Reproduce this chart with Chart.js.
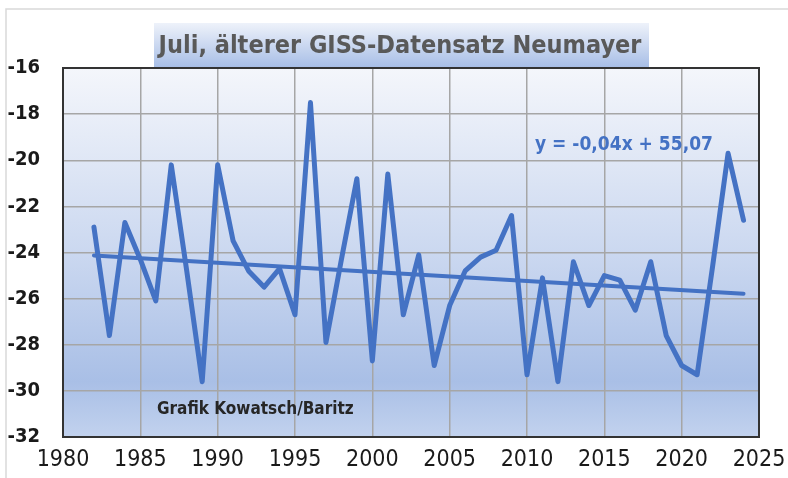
<!DOCTYPE html>
<html><head><meta charset="utf-8">
<script src="https://cdn.jsdelivr.net/npm/chart.js@4.4.1/dist/chart.umd.min.js"></script>
<style>html,body{margin:0;padding:0;background:#fff;}#wrap{width:788px;height:478px;}</style>
</head><body><div id="wrap"><canvas id="c" width="788" height="478"></canvas></div>
<script>
const chartTitle = 'Juli, älterer GISS-Datensatz Neumayer';
const creditText = 'Grafik Kowatsch/Baritz';
const equationText = 'y = -0,04x + 55,07';
const years = [1982,1983,1984,1985,1986,1987,1988,1989,1990,1991,1992,1993,1994,1995,1996,1997,1998,1999,2000,2001,2002,2003,2004,2005,2006,2007,2008,2009,2010,2011,2012,2013,2014,2015,2016,2017,2018,2019,2020,2021,2022,2023,2024];
const temps = [-22.9,-27.6,-22.7,-24.3,-26.1,-20.2,-24.8,-29.6,-20.2,-23.5,-24.8,-25.5,-24.7,-26.7,-17.5,-27.9,-24.3,-20.8,-28.7,-20.6,-26.7,-24.1,-28.9,-26.3,-24.8,-24.2,-23.9,-22.4,-29.3,-25.1,-29.6,-24.4,-26.3,-25.0,-25.2,-26.5,-24.4,-27.6,-28.9,-29.3,-24.6,-19.7,-22.6];
const xTickValues = [1980,1985,1990,1995,2000,2005,2010,2015,2020,2025];
const yTickValues = [-32,-30,-28,-26,-24,-22,-20,-18,-16];

// least-squares trend from the data
const n = years.length;
const mx = years.reduce((a,b)=>a+b,0)/n, my = temps.reduce((a,b)=>a+b,0)/n;
let sxy=0, sxx=0;
for (let i=0;i<n;i++){ sxy+=(years[i]-mx)*(temps[i]-my); sxx+=(years[i]-mx)**2; }
const slope = sxy/sxx, icpt = my - slope*mx;
const trendYears = [years[0], years[n-1]];
const trendVals = trendYears.map(x => icpt + slope*x);

const BLUE = '#4472C4';
const FONT = '"Liberation Sans Narrow", "DejaVu Sans Condensed", sans-serif';
const deco = {
  id:'deco',
  beforeDraw(chart){
    const ctx = chart.ctx, a = chart.chartArea;
    ctx.save();
    ctx.strokeStyle = '#d9d9d9'; ctx.lineWidth = 1.5;
    ctx.beginPath(); ctx.moveTo(6, 490); ctx.lineTo(6, 9); ctx.lineTo(800, 9); ctx.stroke();
    const g = ctx.createLinearGradient(0, a.top, 0, a.bottom);
    g.addColorStop(0, '#f4f6fb');
    g.addColorStop(0.5, '#cbd8f0');
    g.addColorStop(0.85, '#a9bfe6');
    g.addColorStop(1, '#c2d2ee');
    ctx.fillStyle = g;
    ctx.fillRect(a.left, a.top, a.right-a.left, a.bottom-a.top);
    const tg = ctx.createLinearGradient(0, 23, 0, a.top);
    tg.addColorStop(0, '#eef2fa');
    tg.addColorStop(1, '#a6bde6');
    ctx.fillStyle = tg;
    ctx.fillRect(154, 23, 495, a.top-23);
    ctx.fillStyle = '#595959';
    ctx.font = 'bold 25px ' + FONT;
    ctx.textAlign = 'center'; ctx.textBaseline = 'alphabetic';
    ctx.fillText(chartTitle, 400, 53);
    ctx.restore();
  },
  beforeDatasetsDraw(chart){
    const ctx = chart.ctx, a = chart.chartArea;
    ctx.save();
    ctx.strokeStyle = '#333'; ctx.lineWidth = 2;
    ctx.strokeRect(a.left, a.top, a.right-a.left, a.bottom-a.top);
    ctx.restore();
  },
  afterDatasetsDraw(chart){
    const ctx = chart.ctx;
    ctx.save();
    ctx.textBaseline = 'middle'; ctx.textAlign = 'left';
    ctx.fillStyle = '#262626';
    ctx.font = 'bold 17px ' + FONT;
    ctx.fillText(creditText, 157, 410);
    ctx.fillStyle = BLUE;
    ctx.font = 'bold 19px ' + FONT;
    ctx.fillText(equationText, 535, 145);
    ctx.restore();
  }
};

new Chart(document.getElementById('c'), {
  type:'line',
  data:{
    datasets:[
      {data: years.map((x,i)=>({x, y:temps[i]})), borderColor:BLUE, borderWidth:5, pointRadius:0, tension:0, borderJoinStyle:'round', borderCapStyle:'round', order:1},
      {data: trendYears.map((x,i)=>({x, y:trendVals[i]})), borderColor:BLUE, borderWidth:4, pointRadius:0, tension:0, borderCapStyle:'round', order:2}
    ]
  },
  options:{
    responsive:false, animation:false, devicePixelRatio:1,
    layout:{padding:{top:68, right:29, left:0, bottom:0}},
    plugins:{legend:{display:false}, tooltip:{enabled:false}, title:{display:false}},
    scales:{
      x:{type:'linear', min:1980, max:2025,
        afterBuildTicks(s){ s.ticks = xTickValues.map(v=>({value:v})); },
        afterFit(s){ s.height = 41; s.paddingLeft = 0; s.paddingRight = 0; },
        grid:{color:'#a6a6a6', lineWidth:1.5, drawTicks:false},
        border:{display:false},
        ticks:{padding:9, color:'#1a1a1a', maxRotation:0, autoSkip:false,
          font:{family:FONT, size:23},
          callback:(v)=>String(v)}
      },
      y:{type:'linear', min:-32, max:-16,
        afterBuildTicks(s){ s.ticks = yTickValues.map(v=>({value:v})); },
        afterFit(s){ s.width = 63; s.paddingTop = 0; s.paddingBottom = 0; },
        grid:{color:'#a6a6a6', lineWidth:1.5, drawTicks:false},
        border:{display:false},
        ticks:{padding:23, color:'#1a1a1a', autoSkip:false,
          font:{family:FONT, size:20, weight:'bold'},
          callback:(v)=>String(v)}
      }
    }
  },
  plugins:[deco]
});
</script></body></html>
